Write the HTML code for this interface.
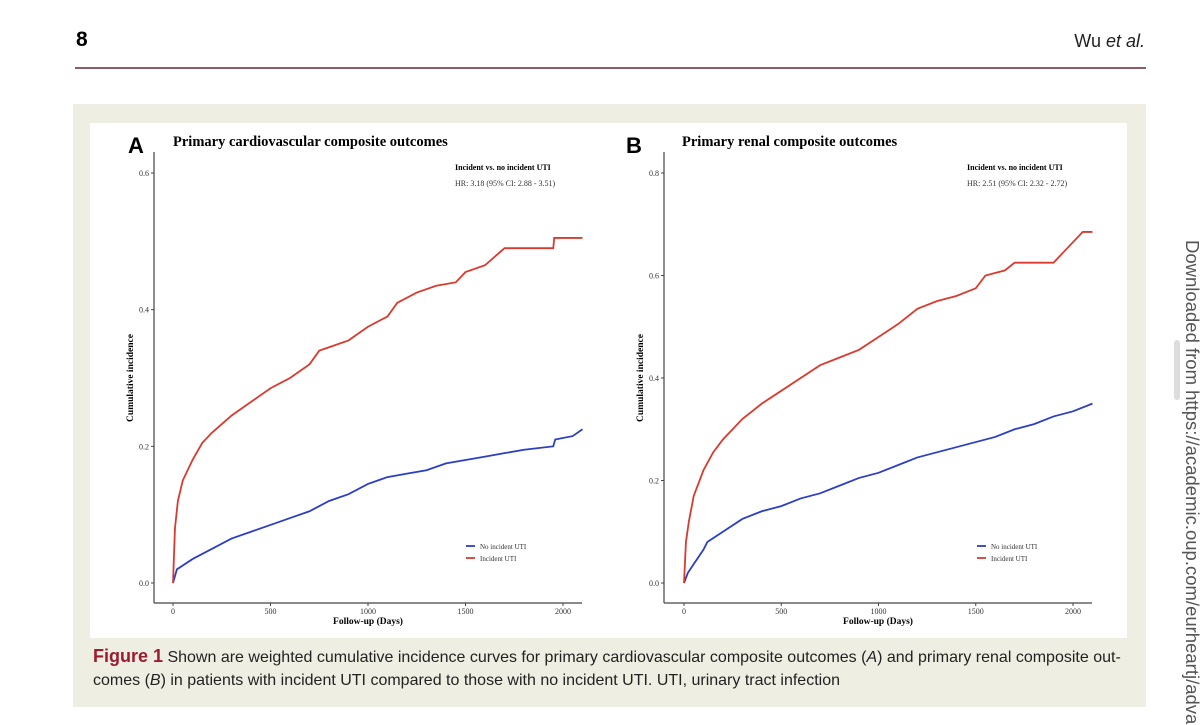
<!DOCTYPE html>
<html><head><meta charset="utf-8">
<style>
body{margin:0;width:1200px;height:725px;background:#fff;position:relative;overflow:hidden;font-family:"Liberation Sans",sans-serif;}
.abs{position:absolute;}
</style></head><body>
<div class="abs" style="left:76px;top:28px;font-weight:bold;font-size:21px;">8</div>
<div class="abs" style="right:55px;top:31px;font-size:18px;color:#222;">Wu <i>et al.</i></div>
<div class="abs" style="left:75px;top:67px;width:1071px;height:2px;background:#8d5c68;"></div>
<div class="abs" style="left:73px;top:104px;width:1073px;height:603px;background:#efeee3;"></div>
<div class="abs" style="left:90px;top:123px;width:1037px;height:515px;background:#fff;"></div>
<div class="abs" style="left:93px;top:645px;white-space:nowrap;font-size:16px;line-height:23px;color:#222;"><b style="color:#9b1b30;font-size:18px;">Figure 1</b> Shown are weighted cumulative incidence curves for primary cardiovascular composite outcomes (<i>A</i>) and primary renal composite out-<br>comes (<i>B</i>) in patients with incident UTI compared to those with no incident UTI. UTI, urinary tract infection</div>
<div class="abs" style="left:1174px;top:340px;width:6px;height:60px;background:#ddd;border-radius:3px;"></div>
<div class="abs" style="left:1181px;top:240px;writing-mode:vertical-rl;font-size:18.5px;color:#555;white-space:nowrap;">Downloaded from https://academic.oup.com/eurheartj/adva</div>
<svg class="abs" style="left:0;top:0" width="1200" height="725" id="chart"></svg>
<script>
const xTicks=[0,500,1000,1500,2000];
const aYTicks=[0,0.2,0.4,0.6];
const bYTicks=[0,0.2,0.4,0.6,0.8];
const aRedDays=[0,10,25,50,100,150,200,300,400,500,600,700,750,800,900,1000,1100,1150,1250,1350,1450,1500,1600,1700,1950,1955,2100];
const aRedVals=[0,0.08,0.12,0.15,0.18,0.205,0.22,0.245,0.265,0.285,0.3,0.32,0.34,0.345,0.355,0.375,0.39,0.41,0.425,0.435,0.44,0.455,0.465,0.49,0.49,0.505,0.505];
const aBlueDays=[0,20,100,200,300,400,500,600,700,800,900,1000,1100,1200,1300,1400,1500,1600,1700,1800,1950,1960,2050,2100];
const aBlueVals=[0,0.02,0.035,0.05,0.065,0.075,0.085,0.095,0.105,0.12,0.13,0.145,0.155,0.16,0.165,0.175,0.18,0.185,0.19,0.195,0.2,0.21,0.215,0.225];
const bRedDays=[0,10,25,50,100,150,200,300,400,500,600,700,800,900,1000,1100,1200,1300,1400,1500,1550,1650,1700,1900,1950,2000,2050,2100];
const bRedVals=[0,0.08,0.12,0.17,0.22,0.255,0.28,0.32,0.35,0.375,0.4,0.425,0.44,0.455,0.48,0.505,0.535,0.55,0.56,0.575,0.6,0.61,0.625,0.625,0.645,0.665,0.685,0.685];
const bBlueDays=[0,20,100,120,200,300,400,500,600,700,800,900,1000,1100,1200,1300,1400,1500,1600,1700,1800,1900,2000,2100];
const bBlueVals=[0,0.02,0.065,0.08,0.1,0.125,0.14,0.15,0.165,0.175,0.19,0.205,0.215,0.23,0.245,0.255,0.265,0.275,0.285,0.3,0.31,0.325,0.335,0.35];

const svg=document.getElementById('chart');
const NS='http://www.w3.org/2000/svg';
function mk(tag,attrs,txt){const e=document.createElementNS(NS,tag);for(const k in attrs)e.setAttribute(k,attrs[k]);if(txt!==undefined)e.textContent=txt;svg.appendChild(e);return e;}
function panel(p){
  const sx=d=>p.x0+(d/2000)*(p.x2000-p.x0);
  const sy=v=>583-(v/p.ymax)*(583-173);
  const serif='"Liberation Serif",serif';
  let t=mk('text',{x:p.letterX,y:153,'font-size':22,'font-weight':'bold','font-family':'"Liberation Sans",sans-serif'},p.letter);
  
  t=mk('text',{x:p.titleX,y:146,'font-size':14.5,'font-weight':'bold','font-family':serif},p.title);
  
  let l=mk('line',{x1:p.axisX,y1:152,x2:p.axisX,y2:603,stroke:'#444','stroke-width':1.2});
  
  l=mk('line',{x1:p.axisX,y1:603,x2:p.xEnd,y2:603,stroke:'#444','stroke-width':1.2});
  
  p.yTicks.forEach(v=>{
    const y=sy(v);
    let e=mk('line',{x1:p.axisX-3,y1:y,x2:p.axisX,y2:y,stroke:'#444'});
    
    e=mk('text',{x:p.axisX-5,y:y+3,'font-size':8,'text-anchor':'end','font-family':serif,fill:'#333'},v.toFixed(1));
    
  });
  xTicks.forEach(d=>{
    const x=sx(d);
    let e=mk('line',{x1:x,y1:603,x2:x,y2:606,stroke:'#444'});
    
    e=mk('text',{x:x,y:614,'font-size':8,'text-anchor':'middle','font-family':serif,fill:'#333'},d);
    
  });
  t=mk('text',{x:(p.axisX+p.xEnd)/2,y:624,'font-size':9.5,'font-weight':'bold','text-anchor':'middle','font-family':serif},'Follow-up (Days)');
  
  t=mk('text',{x:0,y:0,'font-size':9.5,'font-weight':'bold','text-anchor':'middle','font-family':serif,transform:`translate(${p.axisX-21},378) rotate(-90)`},'Cumulative incidence');
  
  t=mk('text',{x:p.annX,y:170,'font-size':8,'font-weight':'bold','font-family':serif},'Incident vs. no incident UTI');
  
  t=mk('text',{x:p.annX,y:186,'font-size':8,'font-family':serif,fill:'#333'},p.hr);
  
  function step(days,vals,color,name){
    let d='M'+sx(days[0])+','+sy(vals[0]);
    for(let i=1;i<days.length;i++)d+=' L'+sx(days[i])+','+sy(vals[i]);
    const e=mk('path',{d:d,fill:'none',stroke:color,'stroke-width':1.8});
    
  }
  step(p.blueD,p.blueV,'#2b3fc4','no-incident-uti-curve');
  step(p.redD,p.redV,'#d93a2e','incident-uti-curve');
  const lx=p.legX;
  let e=mk('line',{x1:lx,y1:546,x2:lx+9,y2:546,stroke:'#2b3fc4','stroke-width':1.8});
  
  e=mk('text',{x:lx+14,y:549,'font-size':7,'font-family':serif,fill:'#333'},'No incident UTI');
  
  e=mk('line',{x1:lx,y1:558,x2:lx+9,y2:558,stroke:'#d93a2e','stroke-width':1.8});
  
  e=mk('text',{x:lx+14,y:561,'font-size':7,'font-family':serif,fill:'#333'},'Incident UTI');
  
}
panel({letter:'A',letterX:128,title:'Primary cardiovascular composite outcomes',titleX:173,axisX:154,xEnd:582,x0:173,x2000:563,ymax:0.6,yTicks:aYTicks,annX:455,hr:'HR: 3.18 (95% CI: 2.88 - 3.51)',legX:466,redD:aRedDays,redV:aRedVals,blueD:aBlueDays,blueV:aBlueVals});
panel({letter:'B',letterX:626,title:'Primary renal composite outcomes',titleX:682,axisX:664,xEnd:1092,x0:684,x2000:1073,ymax:0.8,yTicks:bYTicks,annX:967,hr:'HR: 2.51 (95% CI: 2.32 - 2.72)',legX:977,redD:bRedDays,redV:bRedVals,blueD:bBlueDays,blueV:bBlueVals});
</script>
</body></html>
